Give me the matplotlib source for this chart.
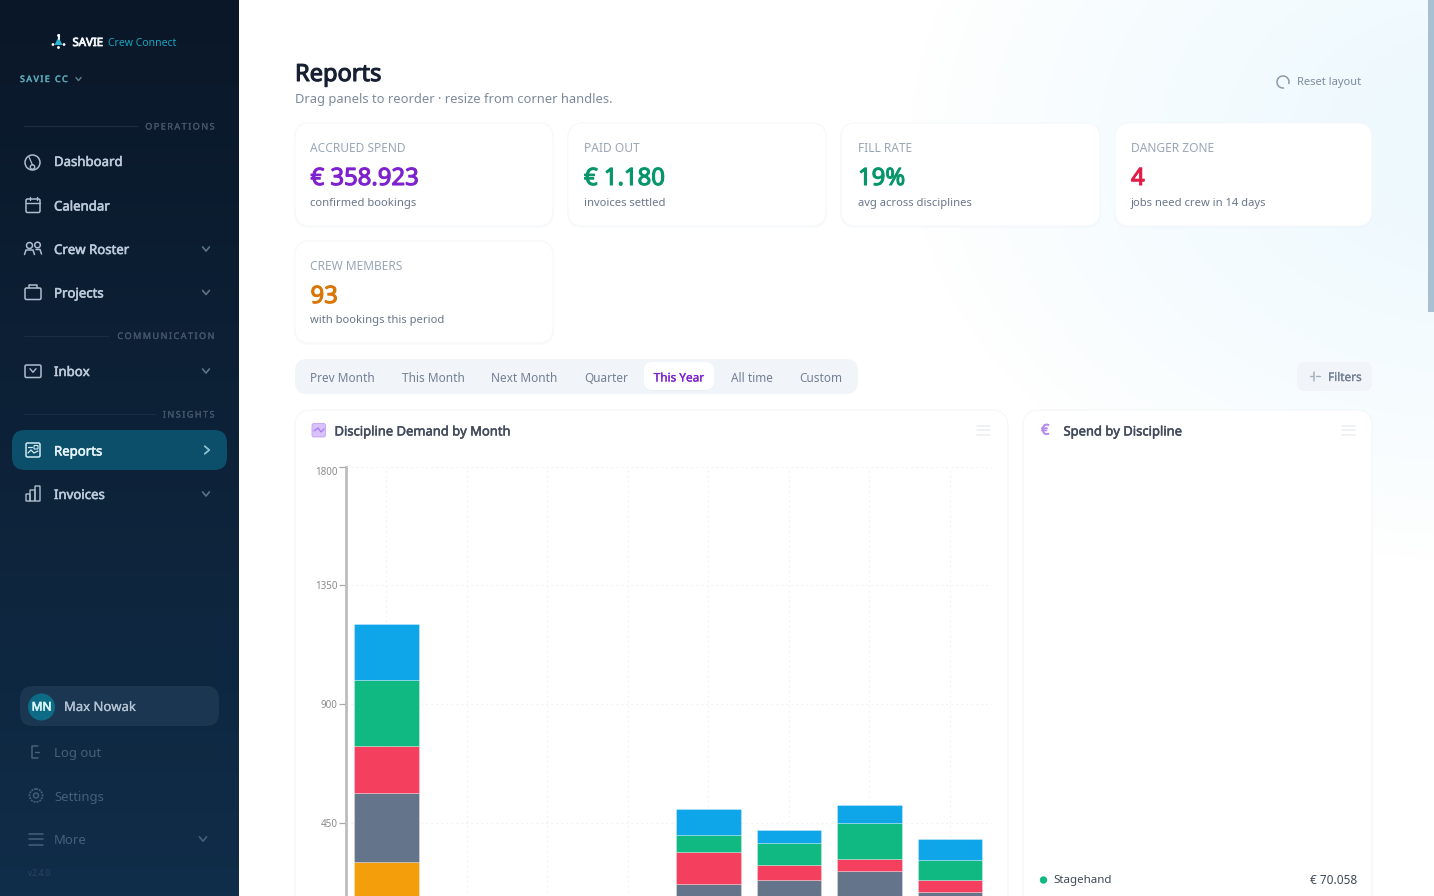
import numpy as np
import matplotlib
matplotlib.use("Agg")
import matplotlib.pyplot as plt
import matplotlib.patheffects as pe
from matplotlib.patches import FancyBboxPatch, Rectangle, Circle, Arc, Polygon

plt.rcParams['font.family'] = ['Noto Sans', 'DejaVu Sans']

# ---------- data ----------
months = ["Jan", "Feb", "Mar", "Apr", "May", "Jun", "Jul", "Aug"]
backline = [302, 0, 0, 0, 120, 110, 130, 90]
audio = [261, 0, 0, 0, 99, 124, 138, 99]
lighting = [178, 0, 0, 0, 121, 57, 46, 45]
stagehand = [250, 0, 0, 0, 65, 83, 136, 76]
rigging = [211, 0, 0, 0, 98, 49, 68, 80]
series = [backline, audio, lighting, stagehand, rigging]
series_colors = ["#f59e0b", "#64748b", "#f43f5e", "#10b981", "#0ea5e9"]
y_ticks = [450, 900, 1350, 1800]

kpi_labels = ["ACCRUED SPEND", "PAID OUT", "FILL RATE", "DANGER ZONE", "CREW MEMBERS"]
kpi_values = ["€ 358.923", "€ 1.180", "19%", "4", "93"]
kpi_notes = ["confirmed bookings", "invoices settled", "avg across disciplines",
             "jobs need crew in 14 days", "with bookings this period"]
kpi_colors = ["#7e22ce", "#059669", "#059669", "#e11d48", "#d97706"]
kpi_boxes = [(295, 123, 553, 226), (568, 123, 826, 226), (841, 123, 1100, 226),
             (1115, 123, 1372, 226), (295, 241, 553, 343)]
kpi_text_x = [310.5, 584, 858, 1131, 310.5]
tabs = ["Prev Month", "This Month", "Next Month", "Quarter", "This Year", "All time", "Custom"]
tab_x = [342, 433, 524.5, 606, 679, 751.5, 821]

W, H = 1434, 896
fig = plt.figure(figsize=(W / 100, H / 100), dpi=100, facecolor="white")
bg = fig.add_axes([0, 0, 1, 1])
bg.set_xlim(0, W)
bg.set_ylim(H, 0)
bg.axis("off")

# ---------- backgrounds ----------
xx, yy = np.meshgrid(np.arange(W), np.arange(H))
d = np.sqrt(((xx - 1470) / 560.0) ** 2 + ((yy - 140) / 420.0) ** 2)
t = np.clip(1 - d, 0, 1)[..., None]
t = t ** 0.8
white = np.array([1, 1, 1.0])
tint = np.array([0.925, 0.975, 0.995])
main = white * (1 - t) + tint * t
bg.imshow(main, extent=(0, W, H, 0), aspect="auto", zorder=0, interpolation="bilinear")
side = np.linspace(0, 1, 256)[:, None, None]
top_c = np.array([0x0a, 0x17, 0x28]) / 255
bot_c = np.array([0x10, 0x2d, 0x49]) / 255
bg.imshow(top_c * (1 - side) + bot_c * side, extent=(0, 239, H, 0), aspect="auto", zorder=1)
bg.set_xlim(0, W)
bg.set_ylim(H, 0)
bg.add_patch(Rectangle((1428, 0), 6, 312, fc="#a9bfd2", ec="none", zorder=2))


def rbox(x0, y0, x1, y1, r=12, fc="white", ec="none", lw=1.0, z=3, alpha=None):
    p = FancyBboxPatch((x0 + r, y0 + r), x1 - x0 - 2 * r, y1 - y0 - 2 * r,
                       boxstyle=f"round,pad={r},rounding_size={r}",
                       fc=fc, ec=ec, lw=lw, zorder=z, alpha=alpha)
    bg.add_patch(p)
    return p


def txt(x, y, s, size=9, color="#333", stroke=0, ha="left", z=6):
    t = bg.text(x, y + 1, s, fontsize=size, color=color, ha=ha, va="center", zorder=z)
    if stroke:
        t.set_path_effects([pe.withStroke(linewidth=stroke, foreground=color)])
    return t


def spaced(s):
    return "\u2009".join(s)


def ln(xs, ys, color, lw=1.2, z=6):
    bg.plot(xs, ys, color=color, lw=lw, zorder=z, solid_capstyle="round", solid_joinstyle="round")


def chevron(x, y, color, size=3.5, lw=1.2, right=False):
    if right:
        ln([x - size * 0.6, x + size * 0.6, x - size * 0.6], [y - size, y, y + size], color, lw)
    else:
        ln([x - size, x, x + size], [y - size * 0.6, y + size * 0.6, y - size * 0.6], color, lw)


# ---------- sidebar ----------
NAV = "#bccadb"
ICON = "#aebccd"
SEC = "#45566b"
# logo
bg.add_patch(Polygon([(58.5, 37), (54.5, 45), (62.5, 45)], fc="#2fb4cf", ec="none", zorder=6))
ln([58.5, 58.5], [35, 39], "#e8f3f7", 1.5)
for px, py in [(53, 44.5), (64, 44.5), (58.5, 47.5), (58.5, 35.5)]:
    bg.add_patch(Circle((px, py), 1.4, fc="white", ec="none", zorder=7))
txt(72.5, 42.5, "SAVIE", 8.2, "#f4f7fa", 0.6)
txt(108.5, 42.5, "Crew Connect", 7.5, "#17a6bd")
txt(20, 78.5, spaced("SAVIE CC"), 6.4, "#5aa6b5", 0.35)
chevron(78.5, 79, "#5b7f8d", 2.6, 1.0)

for x0, x1, y, s in [(24, 137, 126.5, "OPERATIONS"), (24, 108, 336, "COMMUNICATION"), (24, 155, 414.5, "INSIGHTS")]:
    ln([x0, x1], [y, y], "#1b2c40", 0.9)
    txt(214.5, y - 0.5, spaced(s), 6.5, SEC, 0.2, ha="right")

rbox(12, 430, 227, 470, r=13, fc="#0c4f6b", z=3)
nav = [("Dashboard", 161.5, False), ("Calendar", 206, False), ("Crew Roster", 249.5, True),
       ("Projects", 293, True), ("Inbox", 371.5, True), ("Reports", 451, False), ("Invoices", 494.5, True)]
for name, y, chev in nav:
    c = "#e5f4f8" if name == "Reports" else NAV
    txt(54, y, name, 9.5, c, 0.4)
    if chev:
        chevron(206, y - 0.5, "#5e7286", 3.4, 1.2)
chevron(207, 450, "#8dc0d0", 3.8, 1.3, right=True)

# nav icons
bg.add_patch(Circle((32.5, 162.5), 7.5, fc="none", ec=ICON, lw=1.1, zorder=6))
bg.add_patch(Circle((32.5, 167), 2.2, fc="none", ec=ICON, lw=1.0, zorder=6))
ln([32.5, 29], [165, 157], ICON, 0.9)
rbox(26, 199, 40, 212.5, r=1.5, fc="none", ec=ICON, lw=1.1, z=6)
ln([26, 40], [203.5, 203.5], ICON, 1.0)
ln([29.5, 29.5], [197.5, 200.5], ICON, 1.0)
ln([36.5, 36.5], [197.5, 200.5], ICON, 1.0)
bg.add_patch(Circle((29.5, 245.5), 3, fc="none", ec=ICON, lw=1.1, zorder=6))
bg.add_patch(Circle((37.5, 245), 2.8, fc="none", ec=ICON, lw=1.1, zorder=6))
ln([24.5, 26, 33, 34.5], [254.5, 250, 250, 254.5], ICON, 1.1)
ln([36, 40, 41.5], [249.5, 249.5, 254], ICON, 1.1)
rbox(25, 288, 41, 299.5, r=1.5, fc="none", ec=ICON, lw=1.1, z=6)
ln([29, 29, 37, 37], [288, 285, 285, 288], ICON, 1.1)
rbox(25, 365, 41, 377.5, r=1.5, fc="none", ec=ICON, lw=1.1, z=6)
chevron(33, 370.5, ICON, 3, 1.0)
rbox(26, 443, 40, 457, r=1.5, fc="none", ec="#d0eaf2", lw=1.1, z=6)
ln([28, 31, 34, 38], [453, 450, 453, 451], "#d0eaf2", 0.9)
ln([28, 32], [447, 447], "#d0eaf2", 0.9)
rbox(34, 445.5, 38, 449, r=0.5, fc="none", ec="#d0eaf2", lw=0.8, z=6)
rbox(26, 494, 30, 501, r=0.5, fc="none", ec=ICON, lw=1, z=6)
rbox(30, 490, 35, 501, r=0.5, fc="none", ec=ICON, lw=1, z=6)
rbox(35, 486, 40, 501, r=0.5, fc="none", ec=ICON, lw=1, z=6)

# user block
rbox(20, 686, 219, 726, r=13, fc="#1a3650", z=3)
bg.add_patch(Circle((41.5, 707), 13.5, fc="#0e6b86", ec="none", zorder=4))
txt(41.5, 706, "MN", 8.6, "#d6f4f9", 0.5, ha="center")
txt(64, 706.5, "Max Nowak", 9.4, "#b5c3d4", 0.15)
DIM = "#45607a"
txt(54, 752.5, "Log out", 9.4, DIM)
txt(54, 796, "Settings", 9.4, DIM)
txt(54, 839, "More", 9.4, DIM)
txt(28, 872.5, "v2.4.0", 5.8, "#294460")
chevron(203, 839, DIM, 3.6, 1.2)
ln([38, 32, 32, 38], [746, 746, 758, 758], DIM, 1.1)
ln([35, 39], [752, 752], DIM, 1.0)
bg.add_patch(Circle((36, 795.5), 6.5, fc="none", ec=DIM, lw=1.2, ls=(0, (1.2, 0.6)), zorder=6))
bg.add_patch(Circle((36, 795.5), 2.5, fc="none", ec=DIM, lw=1.0, zorder=6))
for yy0 in (834, 839.5, 845):
    ln([29, 43], [yy0, yy0], DIM, 1.1)

# ---------- header ----------
txt(295, 74, "Reports", 17, "#172033", 0.8)
txt(295, 98, "Drag panels to reorder · resize from corner handles.", 9.3, "#7c8a9c")
bg.add_patch(Arc((1283, 82), 12, 12, theta1=-280, theta2=20, ec="#8d99a8", lw=1.1, zorder=6))
txt(1297, 82, "Reset layout", 8.0, "#7c8a9c")

# ---------- KPI cards ----------
for (x0, y0, x1, y1), tx, lab, val, note, col in zip(kpi_boxes, kpi_text_x, kpi_labels, kpi_values, kpi_notes, kpi_colors):
    rbox(x0 - 1, y0 - 0.5, x1 + 1, y1 + 2, r=16, fc="#e9eff5", z=3, alpha=0.3)
    rbox(x0, y0, x1, y1, r=15, fc="white", ec="#f6f8fa", lw=0.8, z=3)
    txt(tx, y0 + 25, lab, 8.6, "#9aa6b6")
    txt(tx, y0 + 55, val, 17.2, col, 0.8)
    txt(tx, y0 + 79.5 if y0 < 200 else y0 + 78.5, note, 8.05, "#69778a")

# ---------- tabs ----------
rbox(295, 359, 858, 394, r=12, fc="#f1f5f9", z=3)
rbox(644, 362, 714, 390.5, r=8, fc="#e6ebf1", z=3)
rbox(644, 362, 714, 390, r=8, fc="white", z=3)
for s, x in zip(tabs, tab_x):
    act = s == "This Year"
    txt(x, 377, s, 8.5, "#7e22ce" if act else "#728094", 0.2 if act else 0, ha="center")
rbox(1297, 362, 1372, 391, r=8, fc="#f1f5f9", z=3)
txt(1328, 376.5, "Filters", 8.5, "#728094", 0.2)
ln([1314, 1314], [372, 381], "#a4afbc", 1.1)
ln([1310, 1313], [376.5, 376.5], "#a4afbc", 1.0)
ln([1316, 1320], [376.5, 376.5], "#a4afbc", 1.0)

# ---------- panels ----------
rbox(295, 410, 1008, 960, r=16, fc="white", ec="#f5f7f9", lw=0.9, z=3)
rbox(1023, 410, 1372, 960, r=16, fc="white", ec="#f5f7f9", lw=0.9, z=3)
rbox(312, 423.5, 325.5, 437, r=2, fc="#d9c2fb", ec="#c2a0f5", lw=0.6, z=5)
ln([314, 318, 321, 324], [431, 428, 432, 429], "#a678ee", 0.9)
txt(334.5, 431, "Discipline Demand by Month", 9.35, "#424b5c", 0.35)
txt(1041, 430, "€", 10.5, "#b48bf0", 0.5)
txt(1063.5, 431, "Spend by Discipline", 9.35, "#424b5c", 0.35)
for x0 in (977, 1342):
    for y in (426, 430.5, 435):
        ln([x0, x0 + 13], [y, y], "#eceff2", 1.2)

bg.add_patch(Circle((1043.5, 880), 3.7, fc="#10b981", ec="none", zorder=6))
txt(1053, 880, "Stagehand", 8.3, "#3f4a5a")
txt(1357, 880, "€ 70.058", 8.5, "#3f4a5a", ha="right")

# ---------- chart ----------
ax_l, ax_r, ax_t, ax_b = 346, 992, 466.5, 942
band = 80.5
ax = fig.add_axes([ax_l / W, 1 - ax_b / H, (ax_r - ax_l) / W, (ax_b - ax_t) / H])
ax.set_facecolor("none")
ax.set_zorder(5)
bottom = np.zeros(len(months))
for vals, col in zip(series, series_colors):
    ax.bar(months, vals, bottom=bottom, width=64.5 / band, color=col, edgecolor="#ffffff80",
           linewidth=0.4, zorder=3)
    bottom += np.array(vals)
ax.set_xlim(-0.5, (ax_r - ax_l) / band - 0.5)
ax.set_ylim(0, 1800)
ax.set_yticks(y_ticks)
ax.set_yticklabels([str(v) for v in y_ticks])
ax.tick_params(axis="y", length=5, width=0.9, color="#a8a8a8", labelsize=7.1, labelcolor="#8a8a8a", pad=1)
ax.tick_params(axis="x", length=0, labelbottom=False)
ax.grid(True, color="#f1f1f1", lw=0.8, ls=(0, (1.5, 3)), zorder=0)
ax.set_axisbelow(True)
for k in ("top", "right", "bottom"):
    ax.spines[k].set_visible(False)
ax.spines["left"].set_color("#bdbdbd")
ax.spines["left"].set_linewidth(2)
ax.get_yticklabels()[-1].set_verticalalignment("top")

fig.savefig("out.png", dpi=100)
